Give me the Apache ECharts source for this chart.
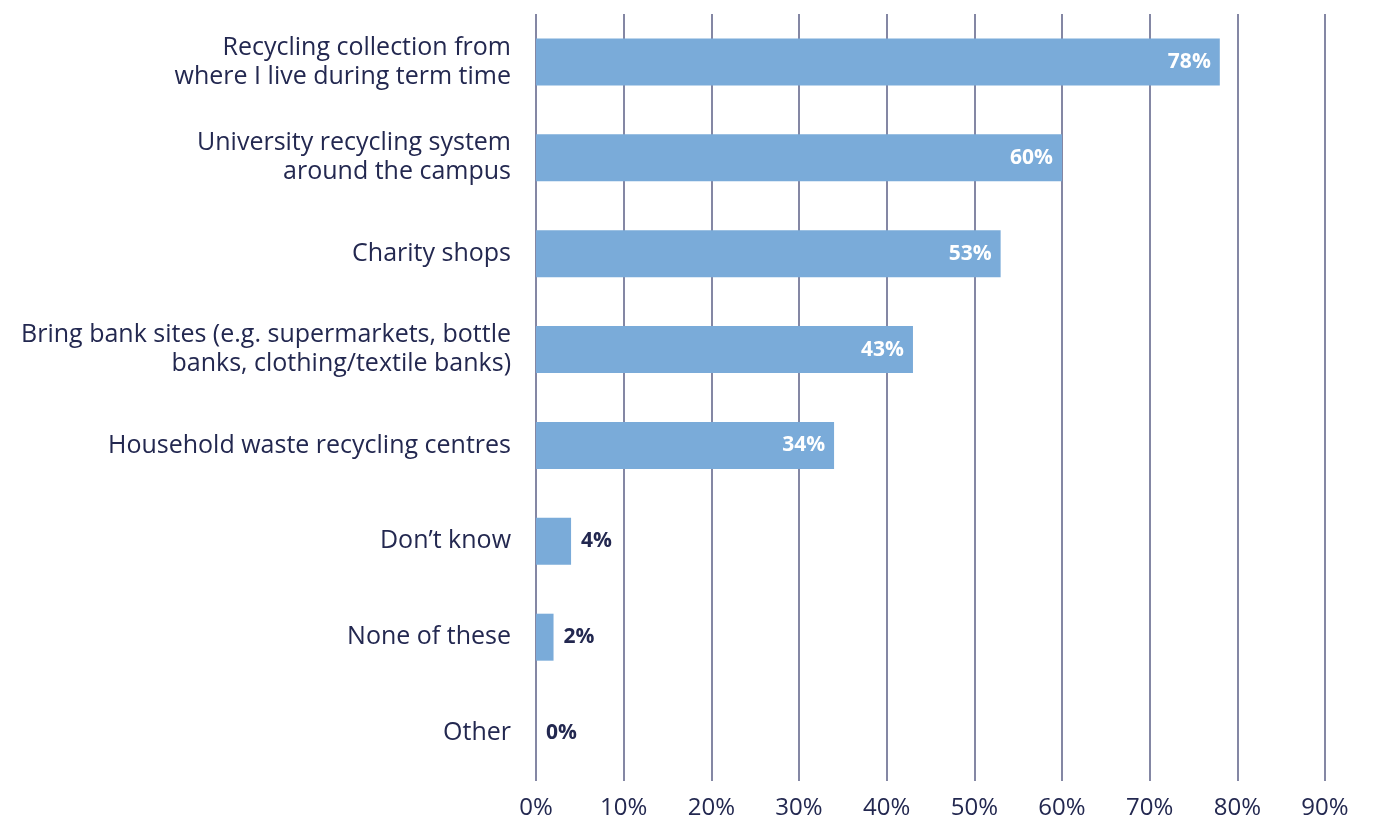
<!DOCTYPE html>
<html>
<head>
<meta charset="utf-8">
<script src="https://cdn.jsdelivr.net/npm/echarts@6/dist/echarts.min.js"></script>
<style>
  html, body { margin: 0; padding: 0; background: #ffffff; }
  #chart { width: 1376px; height: 820px; }
</style>
</head>
<body>
<div id="chart"></div>
<script>
// Where students recycle (share of respondents)
const categories = [
  'Recycling collection from\nwhere I live during term time',
  'University recycling system\naround the campus',
  'Charity shops',
  'Bring bank sites (e.g. supermarkets, bottle\nbanks, clothing/textile banks)',
  'Household waste recycling centres',
  'Don\u2019t know',
  'None of these',
  'Other'
];
const values = [78, 60, 53, 43, 34, 4, 2, 0];
const xTicks = { min: 0, max: 90, step: 10 };

const NAVY = '#232850';
const BAR = '#7aabd9';
const FONT = '"Open Sans", Roboto, sans-serif';

// Bars wide enough hold their label inside; short ones put it to the right
const seriesData = values.map(v => {
  const inside = v >= 10;
  return {
    value: v,
    label: inside ? {
      position: 'insideRight',
      distance: 9,
      color: '#ffffff'
    } : {
      position: 'right',
      distance: 6,
      color: NAVY,
      backgroundColor: '#ffffff',
      padding: [4, 4, 4, 4]
    }
  };
});

const chart = echarts.init(document.getElementById('chart'), null, { renderer: 'canvas' });
chart.setOption({
  animation: false,
  grid: { left: 536, right: 51, top: 14, bottom: 34, containLabel: false },
  xAxis: {
    type: 'value',
    min: xTicks.min,
    max: xTicks.max,
    interval: xTicks.step,
    axisLine: { show: false },
    axisTick: { show: false },
    splitLine: { show: true, lineStyle: { color: '#5b5f86', width: 1.5 } },
    axisLabel: {
      formatter: '{value}%',
      color: NAVY,
      fontFamily: FONT,
      fontSize: 24,
      margin: 15
    }
  },
  yAxis: {
    type: 'category',
    inverse: true,
    data: categories,
    axisLine: { show: false },
    axisTick: { show: false },
    axisLabel: {
      color: NAVY,
      fontFamily: FONT,
      fontSize: 25,
      lineHeight: 29,
      align: 'right',
      margin: 25
    }
  },
  series: [{
    type: 'bar',
    data: seriesData,
    barWidth: '49%',
    itemStyle: { color: BAR },
    label: {
      show: true,
      formatter: '{c}%',
      fontFamily: FONT,
      fontWeight: 'bold',
      fontSize: 21
    }
  }]
});
</script>
</body>
</html>
